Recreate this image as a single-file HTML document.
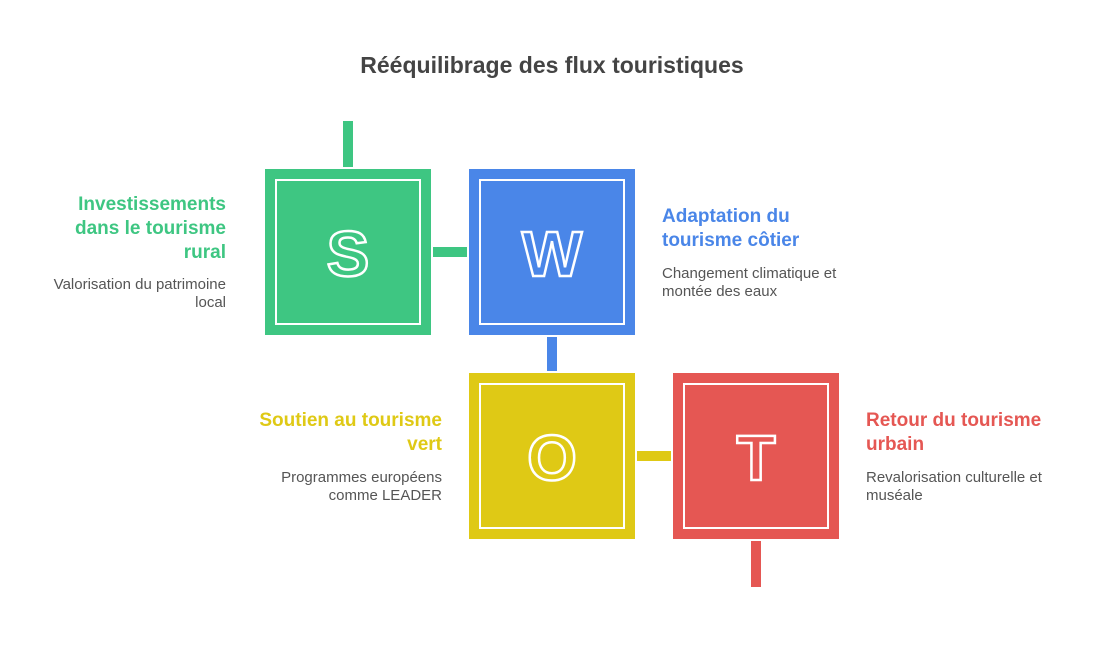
<!DOCTYPE html>
<html><head><meta charset="utf-8"><style>
body{margin:0;width:1104px;height:648px;background:#fff;position:relative;font-family:"Liberation Sans",sans-serif;overflow:hidden}
.a{position:absolute}
.box{position:absolute;width:166px;height:166px}
.in{position:absolute;left:10px;top:10px;width:142px;height:142px;border:2px solid #fff}
.h{position:absolute;font-weight:bold;font-size:19px;line-height:24px}
.d{position:absolute;font-size:15px;line-height:18px;color:#555}
.r{text-align:right}
</style></head><body>
<div class="a" style="left:0;width:1104px;top:52px;text-align:center;font-size:23px;font-weight:bold;color:#444">Rééquilibrage des flux touristiques</div>

<div class="a" style="left:343px;top:121px;width:10px;height:46px;background:#3ec682"></div>
<div class="a" style="left:433px;top:247px;width:34px;height:10px;background:#3ec682"></div>
<div class="a" style="left:547px;top:337px;width:10px;height:34px;background:#4a86e8"></div>
<div class="a" style="left:637px;top:451px;width:34px;height:10px;background:#dfc915"></div>
<div class="a" style="left:751px;top:541px;width:10px;height:46px;background:#e55753"></div>

<div class="box" style="left:265px;top:169px;background:#3ec682"><div class="in"></div></div>
<div class="box" style="left:469px;top:169px;background:#4a86e8"><div class="in"></div></div>
<div class="box" style="left:469px;top:373px;background:#dfc915"><div class="in"></div></div>
<div class="box" style="left:673px;top:373px;background:#e55753"><div class="in"></div></div>

<svg class="a" style="left:0;top:0" width="1104" height="648">
<g font-family="Liberation Sans,sans-serif" font-weight="900" font-size="64" fill="none" stroke="#fff" stroke-width="2.5" text-anchor="middle">
<text x="348" y="276">S</text>
<text x="552" y="276">W</text>
<text x="552" y="480">O</text>
<text x="756" y="480">T</text>
</g></svg>

<div class="h r" style="right:878px;top:193px;color:#3ec682">Investissements<br>dans le tourisme<br>rural</div>
<div class="d r" style="right:878px;top:276px">Valorisation du patrimoine<br>local</div>

<div class="h" style="left:662px;top:205px;color:#4a86e8">Adaptation du<br>tourisme côtier</div>
<div class="d" style="left:662px;top:265px">Changement climatique et<br>montée des eaux</div>

<div class="h r" style="right:662px;top:409px;color:#dfc915">Soutien au tourisme<br>vert</div>
<div class="d r" style="right:662px;top:469px">Programmes européens<br>comme LEADER</div>

<div class="h" style="left:866px;top:409px;color:#e55753">Retour du tourisme<br>urbain</div>
<div class="d" style="left:866px;top:469px">Revalorisation culturelle et<br>muséale</div>
</body></html>
